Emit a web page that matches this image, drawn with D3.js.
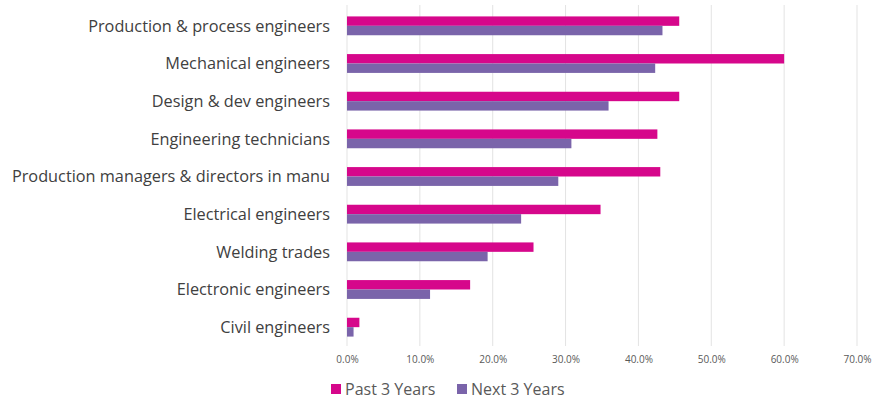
<!DOCTYPE html>
<html lang="en">
<head>
<meta charset="UTF-8">
<title>Engineering roles</title>
<script src="https://d3js.org/d3.v7.min.js"></script>
<style>
    body { margin: 0; background: #fff; }
    .cat text { font: 16.3px "Open Sans", sans-serif; fill: #404040; }
    .tick text { font: 10px "Open Sans", sans-serif; fill: #595959; }
    .legend text { font: 16px "Open Sans", sans-serif; fill: #595959; }
</style>
</head>
<body>
<div id="chart"></div>
<script>
    const categories = [
        "Production & process engineers",
        "Mechanical engineers",
        "Design & dev engineers",
        "Engineering technicians",
        "Production managers & directors in manu",
        "Electrical engineers",
        "Welding trades",
        "Electronic engineers",
        "Civil engineers"
    ];
    const past3 = [45.6, 60.0, 45.6, 42.6, 43.0, 34.8, 25.6, 16.9, 1.7];
    const next3 = [43.3, 42.3, 35.9, 30.8, 29.0, 23.9, 19.3, 11.4, 0.9];
    const ticks = [0, 10, 20, 30, 40, 50, 60, 70];
    const seriesNames = ["Past 3 Years", "Next 3 Years"];
    const colors = ["#d6078b", "#7a64aa"];

    const width = 875, height = 400;
    const svg = d3.select("#chart").append("svg")
        .attr("width", width).attr("height", height);

    const x = d3.scaleLinear().domain([0, 70]).range([347, 857]);
    const y = d3.scaleBand().domain(categories).range([7, 346]).paddingInner(0.5).paddingOuter(0.25);
    const sub = d3.scaleBand().domain([0, 1]).range([0, y.bandwidth()]);

    // gridlines
    svg.append("g").selectAll("line")
        .data(ticks).enter().append("line")
        .attr("x1", d => x(d)).attr("x2", d => x(d))
        .attr("y1", 5).attr("y2", 346)
        .attr("stroke", "#e3e3e3").attr("stroke-width", 1);

    // x axis labels
    const xAxis = d3.axisBottom(x).tickValues(ticks)
        .tickFormat(d => d.toFixed(1) + "%").tickSize(0).tickPadding(0);
    svg.append("g").attr("transform", "translate(0,356)").call(xAxis)
        .call(g => g.select(".domain").remove());

    // bars
    const series = [past3, next3];
    series.forEach((vals, i) => {
        svg.append("g").selectAll("rect")
            .data(vals).enter().append("rect")
            .attr("x", x(0))
            .attr("y", (d, j) => y(categories[j]) + sub(i))
            .attr("width", d => x(d) - x(0))
            .attr("height", sub.bandwidth())
            .attr("fill", colors[i]);
    });

    // category labels
    svg.append("g").attr("class", "cat").selectAll("text")
        .data(categories).enter().append("text")
        .attr("x", 330)
        .attr("y", d => y(d) + y.bandwidth() / 2)
        .attr("dy", "0.35em")
        .attr("text-anchor", "end")
        .text(d => d);

    // legend
    const legend = svg.append("g").attr("class", "legend");
    const legendX = [331, 457];
    seriesNames.forEach((n, i) => {
        legend.append("rect").attr("x", legendX[i]).attr("y", 384)
            .attr("width", 10).attr("height", 10).attr("fill", colors[i]);
        legend.append("text").attr("x", legendX[i] + 14).attr("y", 389)
            .attr("dy", "0.35em").text(n);
    });
</script>
</body>
</html>
